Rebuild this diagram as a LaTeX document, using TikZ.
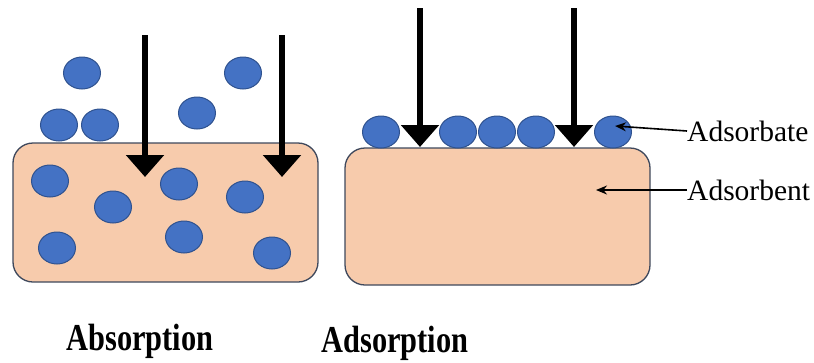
\documentclass[tikz,border=0pt]{standalone}
\usepackage{fontspec}
\setmainfont{Liberation Serif}
\usetikzlibrary{arrows.meta}
\definecolor{peach}{RGB}{247,203,172}
\definecolor{slate}{RGB}{62,72,92}
\definecolor{partfill}{RGB}{68,114,196}
\definecolor{partedge}{RGB}{47,82,143}
\tikzset{
  solid body/.style={fill=peach, draw=slate, line width=1.3pt, rounded corners=20pt},
  particle/.style={fill=partfill, draw=partedge, line width=1pt},
  flux/.style={line width=6.5pt, -{Triangle[width=37pt,length=22pt]}, black},
  pointer/.style={line width=1.6pt, -{Stealth[length=11pt,width=9pt]}, black},
  label text/.style={font=\fontsize{29.5}{32}\selectfont, anchor=west, inner sep=0pt},
  title text/.style={font=\bfseries\fontsize{38}{40}\selectfont, anchor=base, inner sep=0pt, xscale=0.8}
}
\begin{document}
\begin{tikzpicture}[x=1pt,y=-1pt]
\useasboundingbox (0,0) rectangle (814,362);

% ---- absorbing solid ----
\draw[solid body] (13,143) rectangle (318,282);
\foreach \px/\py in {82/73, 59/125, 100/125, 243/73, 197/113,
                     50/181, 113/207, 179/184, 245/197, 57/248, 184/237, 272/253}
  \draw[particle] (\px,\py) ellipse [x radius=18.5, y radius=16];
\coordinate (a1s) at (145,35);  \coordinate (a1e) at (145,177);
\coordinate (a2s) at (282,35);  \coordinate (a2e) at (282,177);
\draw[flux] (a1s) -- (a1e);
\draw[flux] (a2s) -- (a2e);

% ---- adsorbing solid ----
\draw[solid body] (345,148) rectangle (650,285);
\foreach \px/\py in {381/132, 458/132, 497/132, 536/132, 613/132}
  \draw[particle] (\px,\py) ellipse [x radius=18.5, y radius=16];
\coordinate (b1s) at (420,8);  \coordinate (b1e) at (420,147);
\coordinate (b2s) at (574,8);  \coordinate (b2e) at (574,147);
\draw[flux] (b1s) -- (b1e);
\draw[flux] (b2s) -- (b2e);

% ---- labels ----
\node[label text] (adsorbate) at (687,131) {Adsorbate};
\node[label text] (adsorbent) at (687,190) {Adsorbent};
\coordinate (surfpart) at (615,126);
\coordinate (bulkpt) at (596,190);
\draw[pointer] (adsorbate.west) -- (surfpart);
\draw[pointer] (adsorbent.west) -- (bulkpt);

\node[title text] (absorption) at (140,350) {Absorption};
\node[title text] (adsorption) at (395,352) {Adsorption};
\end{tikzpicture}
\end{document}
